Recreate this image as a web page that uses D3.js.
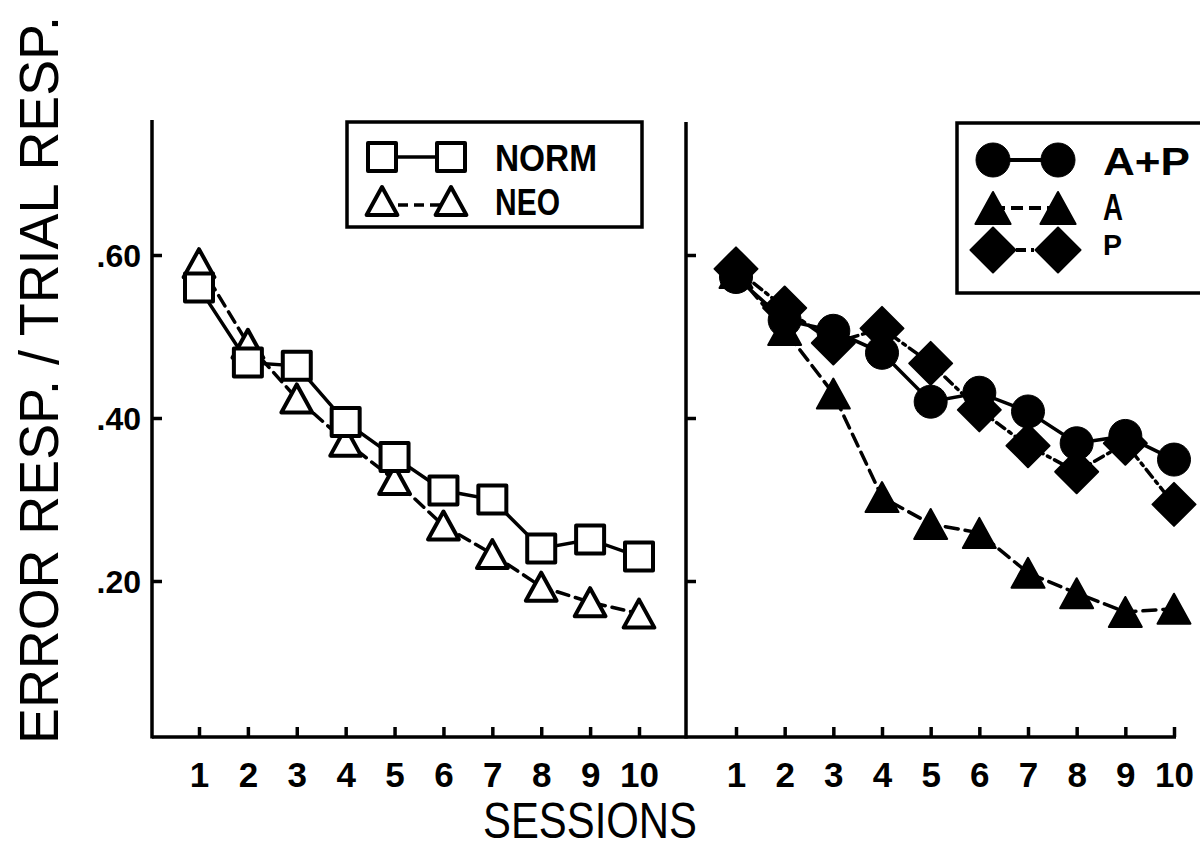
<!DOCTYPE html>
<html>
<head>
<meta charset="utf-8">
<script src="https://cdn.jsdelivr.net/npm/d3@7"></script>
<style>
  html, body { margin: 0; padding: 0; background: #fff; }
  svg { display: block; }
  text { fill: #000; }
</style>
</head>
<body>
<svg id="chart" width="1200" height="850"></svg>
<script>
// ---------- data ----------
const sessions = [1, 2, 3, 4, 5, 6, 7, 8, 9, 10];
const sessionLabels = ["1", "2", "3", "4", "5", "6", "7", "8", "9", "10"];
const yTickValues = [0.2, 0.4, 0.6];
const yTickLabels = [".20", ".40", ".60"];

// left panel
const normValues = [0.560, 0.468, 0.464, 0.395, 0.352, 0.311, 0.300, 0.240, 0.251, 0.230];
const neoValues  = [0.590, 0.491, 0.424, 0.371, 0.324, 0.268, 0.233, 0.193, 0.174, 0.160];
// right panel
const apValues = [0.573, 0.520, 0.507, 0.480, 0.420, 0.431, 0.408, 0.369, 0.378, 0.349];
const aValues  = [0.578, 0.508, 0.430, 0.303, 0.270, 0.259, 0.210, 0.185, 0.162, 0.166];
const pValues  = [0.583, 0.535, 0.492, 0.510, 0.467, 0.410, 0.366, 0.334, 0.369, 0.294];

const leftLegend = [
  { label: "NORM", shape: "square", dash: null },
  { label: "NEO", shape: "triangle", dash: "10,6" }
];
const rightLegend = [
  { label: "A+P", shape: "circle", dash: null },
  { label: "A", shape: "triangle", dash: "12,6" },
  { label: "P", shape: "diamond", dash: "10,5,3,5" }
];

const yTitle = "ERROR RESP. / TRIAL  RESP.";
const xTitle = "SESSIONS";

// ---------- layout ----------
const svg = d3.select("#chart");
const FONT = "'Liberation Sans', Arial, sans-serif";
const xAxisY = 737;
const y = d3.scaleLinear().domain([0, 0.6]).range([744, 255]);
const xL = d3.scaleLinear().domain([1, 10]).range([199, 639]);
const xR = d3.scaleLinear().domain([1, 10]).range([736, 1174]);

const leftAxisX = 152, rightAxisX = 686;

// ---------- axes ----------
function drawYAxis(xpos, withLabels) {
  const ax = d3.axisLeft(y)
    .tickValues(yTickValues)
    .tickSizeInner(-10).tickSizeOuter(0)
    .tickPadding(11)
    .tickFormat((d, i) => withLabels ? yTickLabels[i] : "");
  const g = svg.append("g").attr("transform", `translate(${xpos},0)`).call(ax);
  g.select(".domain").remove();
  g.selectAll(".tick line").attr("stroke", "#000").attr("stroke-width", 3.5);
  g.selectAll(".tick text")
    .attr("font-family", FONT).attr("font-weight", "bold")
    .attr("font-size", 32).attr("fill", "#000").attr("dy", "0.36em");
  return g;
}
function drawXAxis(scale) {
  const ax = d3.axisBottom(scale)
    .tickValues(sessions)
    .tickSizeInner(-10).tickSizeOuter(0)
    .tickPadding(25)
    .tickFormat((d, i) => sessionLabels[i]);
  const g = svg.append("g").attr("transform", `translate(0,${xAxisY})`).call(ax);
  g.select(".domain").remove();
  g.selectAll(".tick line").attr("stroke", "#000").attr("stroke-width", 3.5);
  g.selectAll(".tick text")
    .attr("font-family", FONT).attr("font-weight", "bold")
    .attr("font-size", 35).attr("fill", "#000");
  return g;
}

drawYAxis(leftAxisX, true);
drawYAxis(rightAxisX, false);
drawXAxis(xL);
drawXAxis(xR);

// axis lines
svg.append("line").attr("x1", leftAxisX).attr("x2", leftAxisX).attr("y1", 120).attr("y2", xAxisY + 1.5)
  .attr("stroke", "#000").attr("stroke-width", 3.5);
svg.append("line").attr("x1", rightAxisX).attr("x2", rightAxisX).attr("y1", 122).attr("y2", xAxisY + 1.5)
  .attr("stroke", "#000").attr("stroke-width", 3.5);
svg.append("line").attr("x1", leftAxisX).attr("x2", xR(10) + 2).attr("y1", xAxisY).attr("y2", xAxisY)
  .attr("stroke", "#000").attr("stroke-width", 3.5);

// ---------- marker shapes ----------
function shapePath(shape, size) {
  const s = size;
  if (shape === "square") {
    return `M${-s/2},${-s/2}H${s/2}V${s/2}H${-s/2}Z`;
  } else if (shape === "triangle") {
    const w = s * 1.1, h = s;
    return `M0,${-h/2}L${w/2},${h/2}L${-w/2},${h/2}Z`;
  } else if (shape === "diamond") {
    return `M0,${-s/2}L${s/2},0L0,${s/2}L${-s/2},0Z`;
  }
  return "";
}
function drawMarker(g, shape, cx, cy, filled, size) {
  if (shape === "circle") {
    g.append("circle").attr("cx", cx).attr("cy", cy).attr("r", size / 2)
      .attr("fill", filled ? "#000" : "#fff").attr("stroke", "#000").attr("stroke-width", filled ? 1 : 4);
  } else {
    g.append("path").attr("d", shapePath(shape, size))
      .attr("transform", `translate(${cx},${cy})`)
      .attr("fill", filled ? "#000" : "#fff")
      .attr("stroke", "#000").attr("stroke-width", filled ? 2 : 4)
      .attr("stroke-linejoin", "round");
  }
}

const markerSize = { square: 28, triangle: 28, circle: 33, diamond: 43 };
const markerSizeR = { square: 28, triangle: 30, circle: 33, diamond: 43 };

function drawSeries(xs, values, shape, dash, filled, sizes) {
  const g = svg.append("g");
  const line = d3.line().x((d, i) => xs(sessions[i])).y(d => y(d));
  g.append("path").attr("d", line(values))
    .attr("fill", "none").attr("stroke", "#000").attr("stroke-width", 3.5)
    .attr("stroke-dasharray", dash).attr("stroke-linecap", "round");
  values.forEach((v, i) => drawMarker(g, shape, xs(sessions[i]), y(v), filled, sizes[shape]));
}

// left panel
drawSeries(xL, neoValues, "triangle", "12,7", false, markerSize);
drawSeries(xL, normValues, "square", null, false, markerSize);
// right panel
drawSeries(xR, aValues, "triangle", "13,7", true, markerSizeR);
drawSeries(xR, pValues, "diamond", "10,5,3,5", true, markerSizeR);
drawSeries(xR, apValues, "circle", null, true, markerSizeR);

// ---------- legends ----------
// left legend
svg.append("rect").attr("x", 347).attr("y", 122).attr("width", 295).attr("height", 105)
  .attr("fill", "#fff").attr("stroke", "#000").attr("stroke-width", 3.5);
const llRows = [157, 201];
leftLegend.forEach((d, i) => {
  const g = svg.append("g");
  g.append("line").attr("x1", 382).attr("x2", 451).attr("y1", llRows[i] + (i ? 4 : 0)).attr("y2", llRows[i] + (i ? 4 : 0))
    .attr("stroke", "#000").attr("stroke-width", 3.5).attr("stroke-dasharray", d.dash);
  drawMarker(g, d.shape, 382, llRows[i], false, 28);
  drawMarker(g, d.shape, 451, llRows[i], false, 28);
  g.append("text").attr("x", 495).attr("y", llRows[i] + 14)
    .attr("font-family", FONT).attr("font-weight", "bold").attr("font-size", 37)
    .attr("textLength", i ? 65 : 102).attr("lengthAdjust", "spacingAndGlyphs")
    .text(d.label);
});

// right legend
svg.append("rect").attr("x", 957).attr("y", 123).attr("width", 260).attr("height", 170)
  .attr("fill", "#fff").attr("stroke", "#000").attr("stroke-width", 3.5);
const rlRows = [160, 208, 250];
const rlText = [{ y: 175, len: 87, fs: 38 }, { y: 220, len: 20, fs: 37 }, { y: 255, len: 19, fs: 30 }];
rightLegend.forEach((d, i) => {
  const g = svg.append("g");
  g.append("line").attr("x1", 993).attr("x2", 1058).attr("y1", rlRows[i]).attr("y2", rlRows[i])
    .attr("stroke", "#000").attr("stroke-width", 4).attr("stroke-dasharray", d.dash);
  const sz = d.shape === "triangle" ? 32 : (d.shape === "diamond" ? 45 : 34);
  drawMarker(g, d.shape, 993, rlRows[i], true, sz);
  drawMarker(g, d.shape, 1058, rlRows[i], true, sz);
  g.append("text").attr("x", 1103).attr("y", rlText[i].y)
    .attr("font-family", FONT).attr("font-weight", "bold").attr("font-size", rlText[i].fs)
    .attr("textLength", rlText[i].len).attr("lengthAdjust", "spacingAndGlyphs")
    .text(d.label);
});

// ---------- titles ----------
svg.append("text")
  .attr("transform", "translate(58,744) rotate(-90)")
  .attr("text-anchor", "start")
  .attr("font-family", FONT).attr("font-size", 55)
  .attr("textLength", 728).attr("lengthAdjust", "spacingAndGlyphs")
  .text(yTitle);

svg.append("text")
  .attr("x", 483).attr("y", 838)
  .attr("text-anchor", "start")
  .attr("font-family", FONT).attr("font-size", 50)
  .attr("textLength", 214).attr("lengthAdjust", "spacingAndGlyphs")
  .text(xTitle);
</script>
</body>
</html>
